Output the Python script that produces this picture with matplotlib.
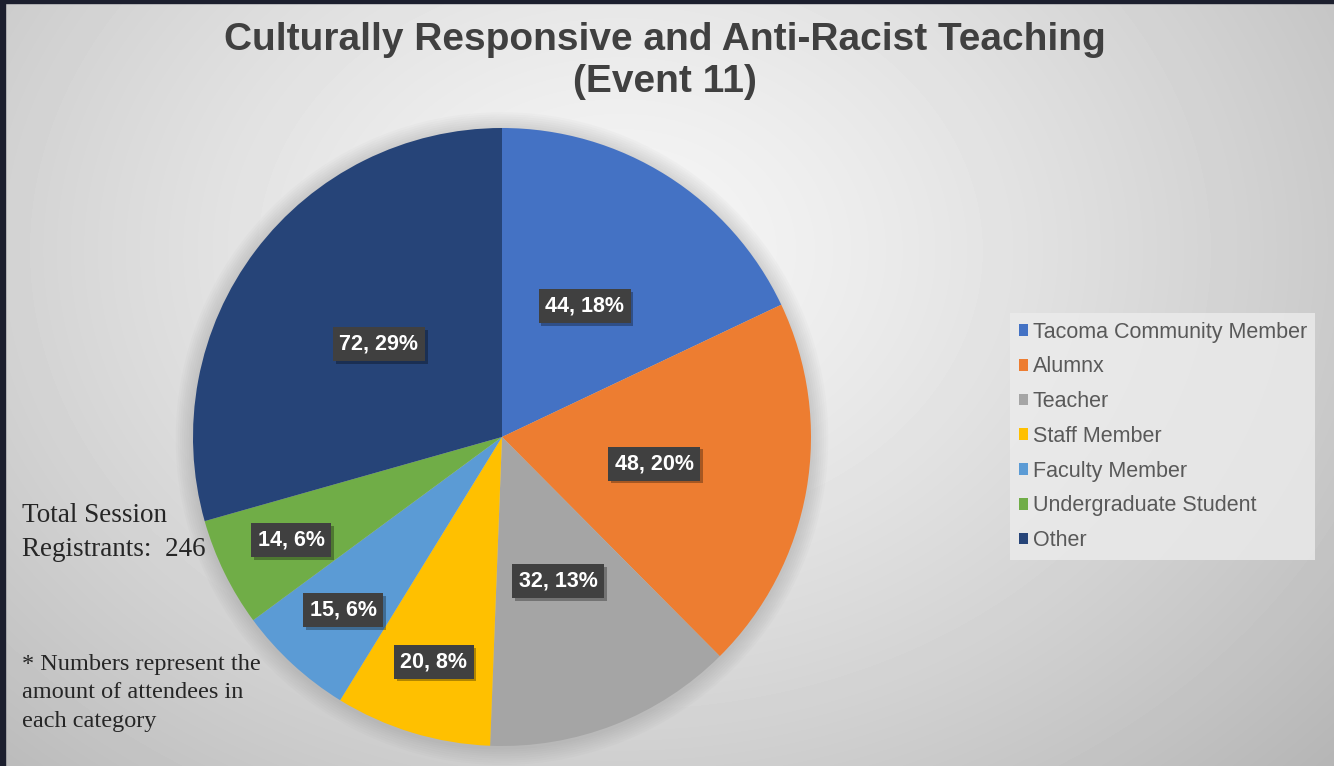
import numpy as np
import matplotlib.pyplot as plt
import matplotlib.patheffects as pe
from matplotlib.patches import Circle, Rectangle

# ---- data ----
categories = ['Tacoma Community Member', 'Alumnx', 'Teacher', 'Staff Member',
              'Faculty Member', 'Undergraduate Student', 'Other']
counts = [44, 48, 32, 20, 15, 14, 72]
percents = [18, 20, 13, 8, 6, 6, 29]
colors = ['#4472C4', '#ED7D31', '#A5A5A5', '#FFC000', '#5B9BD5', '#70AD47', '#264478']
total_registrants = 246

W, H = 1334, 766
fig = plt.figure(figsize=(W / 100, H / 100), dpi=100)

# background gradient
bg = fig.add_axes([0, 0, 1, 1])
yy, xx = np.mgrid[0:H, 0:W]
d = np.sqrt(((xx - 620) / 900.0) ** 2 + ((yy - 250) / 700.0) ** 2)
img = 0.965 - 0.23 * np.clip(d, 0, 1.2) ** 1.3
bg.imshow(img, cmap='gray', vmin=0, vmax=1, extent=[0, W, H, 0], aspect='auto')
bg.add_patch(Rectangle((0, 0), 5, H, color='#1c1f2e'))
bg.add_patch(Rectangle((0, 0), W, 2.5, color='#1c1f2e'))
bg.set_xlim(0, W)
bg.set_ylim(H, 0)
bg.axis('off')

# pie
cx, cy, r = 502, 437, 309
ax = fig.add_axes([(cx - r) / W, (H - cy - r) / H, 2 * r / W, 2 * r / H])
for k in range(8):
    ax.add_patch(Circle((0.0, -0.005), 1.0 + 0.007 * (k + 1), color='#707070',
                        alpha=0.03, lw=0, zorder=0, clip_on=False))
wedges, _ = ax.pie(counts, colors=colors, startangle=90, counterclock=False,
                   radius=1.0, wedgeprops=dict(linewidth=0))
for w, c, p in zip(wedges, counts, percents):
    ang = np.deg2rad((w.theta1 + w.theta2) / 2)
    dist = 0.76 if p < 10 else 0.5
    x, y = dist * np.cos(ang), dist * np.sin(ang)
    t = ax.text(x, y, f'{c}, {p}%', ha='center', va='center', fontsize=15.5,
                fontweight='bold', family='Liberation Sans', color='white',
                bbox=dict(boxstyle='square,pad=0.3', fc='#404040', ec='none'))
    t.get_bbox_patch().set_path_effects([
        pe.SimplePatchShadow(offset=(2, -2), shadow_rgbFace='black', alpha=0.3),
        pe.Normal()])
ax.set_xlim(-1, 1)
ax.set_ylim(-1, 1)
ax.set_aspect('equal')
ax.axis('off')

# title
fig.text(665 / W, 1 - 40 / H, 'Culturally Responsive and Anti-Racist Teaching',
         ha='center', va='center', fontsize=28, fontweight='bold',
         family='Liberation Sans', color='#404040')
fig.text(665 / W, 1 - 82 / H, '(Event 11)', ha='center', va='center', fontsize=28,
         fontweight='bold', family='Liberation Sans', color='#404040')

# legend
leg = fig.legend(wedges, categories, loc='upper left',
                 bbox_to_anchor=(1010 / W, 1 - 313 / H), frameon=True,
                 prop={'family': 'Liberation Sans', 'size': 15.5},
                 handlelength=0.45, handleheight=0.45, handletextpad=0.2,
                 labelspacing=0.64, borderpad=0.4, borderaxespad=0, fancybox=False)
leg.get_frame().set_facecolor('#ececec')
leg.get_frame().set_edgecolor('none')
leg.get_frame().set_alpha(0.8)
for t in leg.get_texts():
    t.set_color('#595959')

# side notes
fig.text(22 / W, 1 - 516 / H, 'Total Session', ha='left', va='center', fontsize=19.5,
         family='Liberation Serif', color='#262626')
fig.text(22 / W, 1 - 549 / H, f'Registrants:  {total_registrants}', ha='left', va='center',
         fontsize=19.5, family='Liberation Serif', color='#262626')
fig.text(22 / W, 1 - 693 / H,
         '* Numbers represent the\namount of attendees in\neach category',
         ha='left', va='center', fontsize=17.5, family='Liberation Serif',
         color='#262626', linespacing=1.45)

fig.savefig('out.png', dpi=100)
